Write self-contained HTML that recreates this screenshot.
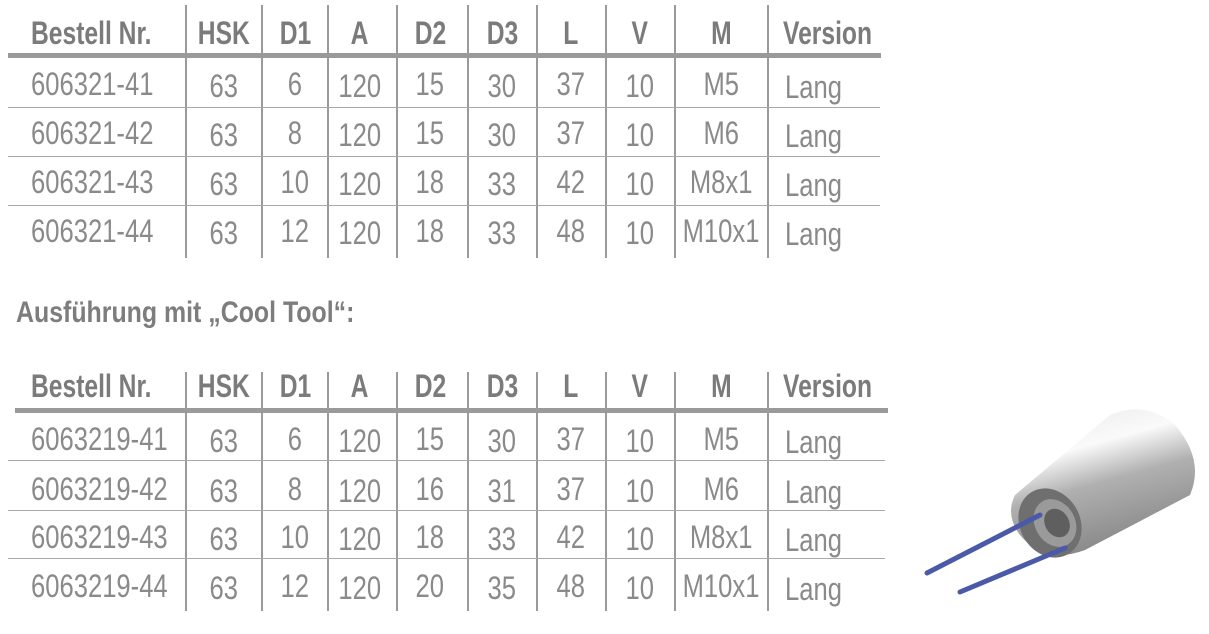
<!DOCTYPE html>
<html><head><meta charset="utf-8"><style>
body{margin:0;width:1209px;height:634px;background:#fff;position:relative;overflow:hidden;font-family:"Liberation Sans",sans-serif;}
.t{position:absolute;white-space:nowrap;line-height:1;}
.t span{display:inline-block;transform:scaleX(0.8);}
.lft span{transform-origin:0 50%;}
.h{font-weight:bold;color:#7b7b7b;font-size:32px;}
.h span{transform:scaleX(0.77);}
.d{color:#8a8a8a;font-size:32px;}
.l{position:absolute;background:#9a9a9a;}
</style></head><body>
<div class="t h lft" style="left:16px;top:298px;font-size:30px;color:#7d7d7d"><span style="transform:scaleX(0.83)">Ausführung mit „Cool Tool“:</span></div>
<svg style="position:absolute;left:915px;top:400px" width="294" height="210" viewBox="0 0 294 210">
<defs>
<linearGradient id="g" x1="0" y1="0" x2="0.35" y2="1">
<stop offset="0" stop-color="#e8e8e8"/><stop offset="0.35" stop-color="#fafafa"/><stop offset="0.6" stop-color="#b0b0b0"/><stop offset="1" stop-color="#8a8a8a"/></linearGradient>
</defs>
<path d="M100 95 L195 15 Q230 0 260 25 Q290 60 275 95 L170 150 Q130 165 105 135 Q90 115 100 95Z" fill="url(#g)"/>
<ellipse cx="135" cy="123" rx="30" ry="36" transform="rotate(-30 135 123)" fill="#6f6f6f"/>
<ellipse cx="140" cy="123" rx="20" ry="25" transform="rotate(-30 140 123)" fill="#9a9a9a"/>
<ellipse cx="142" cy="123" rx="12" ry="15" transform="rotate(-30 142 123)" fill="#5f5f5f"/>
<line x1="12" y1="173" x2="125" y2="115" stroke="#4a5aa8" stroke-width="5" stroke-linecap="round"/>
<line x1="45" y1="192" x2="150" y2="148" stroke="#4a5aa8" stroke-width="5" stroke-linecap="round"/>
</svg>
<script>
function table(top,rows,ruleL,ruleR,lineL,lineR,rowLines,ys,vt,vb,hy){
  const cols=[185,261,327,396,467,536,605,674,767];
  const cx=[null,224,295,360,430,502,571,640,721];
  let h='';
  cols.forEach(x=>h+=`<div class="l" style="left:${x}px;top:${vt}px;width:2px;height:${vb-vt}px"></div>`);
  h+=`<div class="l" style="left:${ruleL}px;top:${top}px;width:${ruleR-ruleL}px;height:5px"></div>`;
  rowLines.forEach(y=>h+=`<div class="l" style="left:${lineL}px;top:${y}px;width:${lineR-lineL}px;height:1px;background:#a8a8a8"></div>`);
  const hd=['Bestell Nr.','HSK','D1','A','D2','D3','L','V','M','Version'];
  hd.forEach((s,i)=>{
    if(i==0)h+=`<div class="t h lft" style="left:31px;top:${hy}px"><span>${s}</span></div>`;
    else if(i==9)h+=`<div class="t h lft" style="left:783px;top:${hy}px"><span>${s}</span></div>`;
    else h+=`<div class="t h" style="left:${cx[i]-60}px;width:120px;text-align:center;top:${hy}px"><span>${s}</span></div>`;
  });
  rows.forEach((r,j)=>{
    const y=ys[j];
    r.forEach((s,i)=>{
      if(i==0)h+=`<div class="t d lft" style="left:31px;top:${y}px"><span>${s}</span></div>`;
      else if(i==9)h+=`<div class="t d lft" style="left:785px;top:${y+3}px"><span>${s}</span></div>`;
      else h+=`<div class="t d" style="left:${cx[i]-60}px;width:120px;text-align:center;top:${y+(i%2?2:0)}px"><span>${s}</span></div>`;
    });
  });
  document.body.insertAdjacentHTML('beforeend',h);
}
table(53,[
['606321-41','63','6','120','15','30','37','10','M5','Lang'],
['606321-42','63','8','120','15','30','37','10','M6','Lang'],
['606321-43','63','10','120','18','33','42','10','M8x1','Lang'],
['606321-44','63','12','120','18','33','48','10','M10x1','Lang']],
8,881,8,880,[107,156,205],[68,117,166,215],5,258,17);
table(408,[
['6063219-41','63','6','120','15','30','37','10','M5','Lang'],
['6063219-42','63','8','120','16','31','37','10','M6','Lang'],
['6063219-43','63','10','120','18','33','42','10','M8x1','Lang'],
['6063219-44','63','12','120','20','35','48','10','M10x1','Lang']],
15,888,8,885,[460,510,558],[423,473,521,570],372,611,370);
</script>
</body></html>
